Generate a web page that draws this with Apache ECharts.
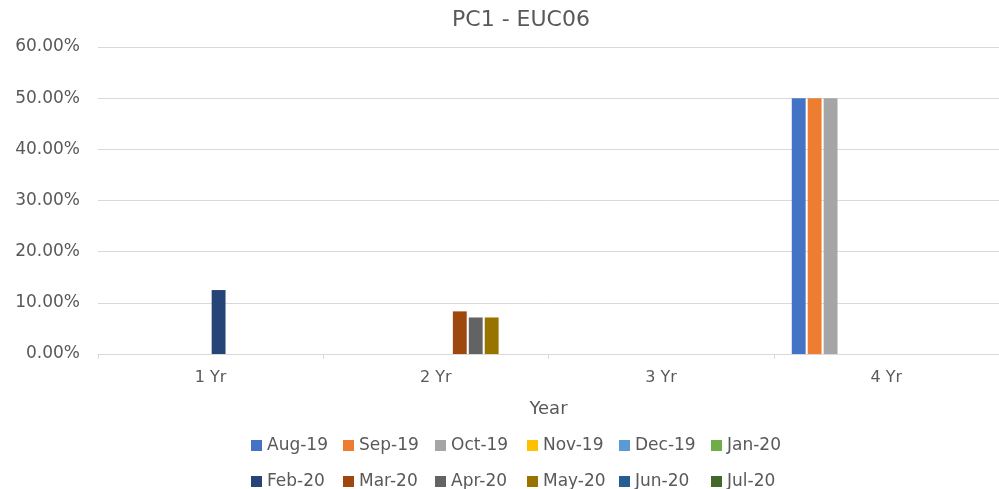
<!DOCTYPE html>
<html>
<head>
<meta charset="utf-8">
<script src="https://cdn.jsdelivr.net/npm/echarts@6/dist/echarts.min.js"></script>
<style>
html,body{margin:0;padding:0;background:#fff;}
#chart{width:999px;height:489px;}
</style>
</head>
<body>
<div id="chart"></div>
<script>
var categories = ['1 Yr', '2 Yr', '3 Yr', '4 Yr'];
var months = ['Aug-19', 'Sep-19', 'Oct-19', 'Nov-19', 'Dec-19', 'Jan-20',
              'Feb-20', 'Mar-20', 'Apr-20', 'May-20', 'Jun-20', 'Jul-20'];
var colors = ['#4472C4', '#ED7D31', '#A5A5A5', '#FFC000', '#5B9BD5', '#70AD47',
              '#264478', '#9E480E', '#636363', '#997300', '#255E91', '#43682B'];
// values per month, in order of categories (fraction)
var aug19 = [0, 0, 0, 0.5];
var sep19 = [0, 0, 0, 0.5];
var oct19 = [0, 0, 0, 0.5];
var nov19 = [0, 0, 0, 0];
var dec19 = [0, 0, 0, 0];
var jan20 = [0, 0, 0, 0];
var feb20 = [0.125, 0, 0, 0];
var mar20 = [0, 0.0833, 0, 0];
var apr20 = [0, 0.0714, 0, 0];
var may20 = [0, 0.0714, 0, 0];
var jun20 = [0, 0, 0, 0];
var jul20 = [0, 0, 0, 0];
var values = [aug19, sep19, oct19, nov19, dec19, jan20, feb20, mar20, apr20, may20, jun20, jul20];

var font = 'DejaVu Sans';
var series = [];
var legends = [];
for (var i = 0; i < months.length; i++) {
    series.push({
        name: months[i],
        type: 'bar',
        barGap: '15%',
        barCategoryGap: '16%',
        itemStyle: {color: colors[i]},
        data: values[i]
    });
    // one legend per item so the columns line up like excel
    legends.push({
        left: 246 + (i % 6) * 92,
        top: i < 6 ? 432 : 468,
        itemWidth: 11,
        itemHeight: 11,
        icon: 'rect',
        textStyle: {color: '#595959', fontSize: 17, fontFamily: font},
        data: [months[i]]
    });
}

var option = {
    animation: false,
    color: colors,
    title: {
        text: 'PC1 - EUC06',
        left: 516,
        top: 4,
        textAlign: 'center',
        textStyle: {color: '#595959', fontSize: 22, fontWeight: 'normal', fontFamily: font}
    },
    legend: legends,
    grid: {
        left: 98,
        right: 0,
        top: 47,
        bottom: 135,
        containLabel: false
    },
    xAxis: {
        type: 'category',
        data: categories,
        name: 'Year',
        nameLocation: 'middle',
        nameGap: 46,
        nameTextStyle: {color: '#595959', fontSize: 18, fontFamily: font},
        axisLine: {lineStyle: {color: '#d9d9d9'}},
        axisTick: {show: true, length: 5, lineStyle: {color: '#d9d9d9'}},
        axisLabel: {color: '#595959', fontSize: 16, fontFamily: font, margin: 16}
    },
    yAxis: {
        type: 'value',
        min: 0,
        max: 0.6,
        interval: 0.1,
        axisLine: {show: false},
        axisTick: {show: false},
        axisLabel: {
            color: '#595959', fontSize: 17, fontFamily: font, margin: 18,
            formatter: function (v) { return (v * 100).toFixed(2) + '%'; }
        },
        splitLine: {lineStyle: {color: '#d9d9d9'}}
    },
    series: series
};

var myChart = echarts.init(document.getElementById('chart'));
myChart.setOption(option);
</script>
</body>
</html>
